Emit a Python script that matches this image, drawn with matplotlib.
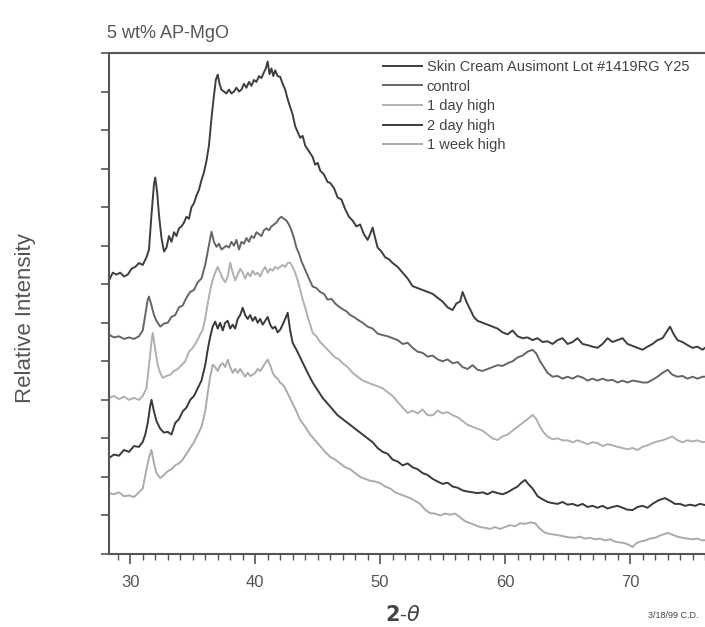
import matplotlib
matplotlib.use("Agg")
import matplotlib.pyplot as plt
from matplotlib.ticker import MultipleLocator, NullFormatter

plt.rcParams['font.family'] = ['Liberation Sans', 'DejaVu Sans']

# 2-theta and relative intensity (offset traces)
skin_x = [28.3, 28.6, 28.9, 29.2, 29.5, 29.8, 30.1, 30.4, 30.7, 31.0, 31.3, 31.5, 31.7, 31.9,
          32.0, 32.15, 32.3, 32.5, 32.7, 32.9, 33.1, 33.3, 33.5, 33.7, 33.9, 34.1, 34.3, 34.5,
          34.7, 34.9, 35.1, 35.3, 35.5, 35.7, 35.9, 36.1, 36.3, 36.5, 36.7, 36.85, 37.0, 37.15,
          37.3, 37.5, 37.7, 37.9, 38.1, 38.3, 38.5, 38.7, 38.9, 39.1, 39.3, 39.5, 39.7, 39.9,
          40.1, 40.3, 40.5, 40.7, 40.85, 41.0, 41.15, 41.3, 41.45, 41.6, 41.8, 42.0, 42.2, 42.4,
          42.6, 42.8, 43.0, 43.2, 43.4, 43.6, 43.8, 44.0, 44.2, 44.4, 44.6, 44.8, 45.0, 45.2,
          45.5, 45.8, 46.0, 46.3, 46.6, 46.9, 47.2, 47.5, 47.8, 48.1, 48.4, 48.7, 49.0, 49.2,
          49.4, 49.6, 49.8, 50.1, 50.4, 50.7, 51.0, 51.4, 51.8, 52.2, 52.6, 53.0, 53.4, 53.8,
          54.2, 54.6, 55.0, 55.4, 55.8, 56.1, 56.4, 56.6, 56.9, 57.2, 57.5, 57.8, 58.2, 58.6,
          59.0, 59.4, 59.8, 60.2, 60.6, 61.0, 61.4, 61.8, 62.2, 62.6, 63.0, 63.4, 63.8, 64.2,
          64.6, 65.0, 65.4, 65.8, 66.2, 66.6, 67.0, 67.4, 67.8, 68.2, 68.6, 69.0, 69.4, 69.8,
          70.2, 70.6, 71.0, 71.4, 71.8, 72.2, 72.6, 72.9, 73.2, 73.5, 73.8, 74.2, 74.6, 75.0,
          75.4, 75.8, 76.0]
skin_y = [7.1, 7.3, 7.25, 7.3, 7.2, 7.25, 7.4, 7.45, 7.55, 7.5, 7.7, 7.9, 8.8, 9.6,
          9.77, 9.4, 8.8, 8.2, 7.85, 7.95, 8.25, 8.1, 8.35, 8.25, 8.45, 8.5, 8.6, 8.75,
          8.7, 9.0, 9.1, 9.3, 9.45, 9.7, 9.9, 10.2, 10.6, 11.3, 11.9, 12.3, 12.44, 12.2,
          12.05, 12.0, 11.95, 12.05, 11.95, 12.0, 12.1, 12.0, 12.05, 12.2, 12.1, 12.25, 12.15, 12.3,
          12.25, 12.4, 12.35, 12.5, 12.6, 12.78, 12.45, 12.6, 12.4, 12.55, 12.4, 12.38, 12.2, 12.05,
          11.8, 11.6, 11.4, 11.1, 10.95, 10.8, 10.85, 10.6, 10.5, 10.4, 10.3, 10.1, 10.15, 9.95,
          9.85, 9.65, 9.63, 9.5, 9.25, 9.2, 8.95, 8.75, 8.65, 8.5, 8.55, 8.3, 8.15, 8.3,
          8.47, 8.2, 7.95, 7.85, 7.7, 7.65, 7.55, 7.45, 7.3, 7.15, 6.95, 6.9, 6.85, 6.8,
          6.75, 6.65, 6.55, 6.4, 6.33, 6.5, 6.55, 6.8, 6.55, 6.35, 6.15, 6.05, 6.0, 5.95,
          5.9, 5.85, 5.75, 5.7, 5.8, 5.65, 5.6, 5.62, 5.55, 5.6, 5.5, 5.52, 5.45, 5.55,
          5.6, 5.45, 5.5, 5.6, 5.45, 5.42, 5.38, 5.35, 5.45, 5.6, 5.5, 5.55, 5.6, 5.45,
          5.4, 5.35, 5.3, 5.38, 5.45, 5.55, 5.6, 5.75, 5.9, 5.7, 5.55, 5.5, 5.42, 5.35,
          5.38, 5.3, 5.35]

control_x = [28.3, 28.7, 29.1, 29.5, 29.9, 30.3, 30.7, 31.0, 31.2, 31.4, 31.5, 31.7, 31.9, 32.1,
             32.4, 32.7, 33.0, 33.3, 33.6, 33.9, 34.2, 34.5, 34.8, 35.1, 35.4, 35.7, 36.0, 36.2,
             36.4, 36.5, 36.7, 36.9, 37.1, 37.3, 37.5, 37.7, 37.9, 38.1, 38.3, 38.5, 38.7, 38.9,
             39.1, 39.3, 39.5, 39.7, 39.9, 40.1, 40.3, 40.5, 40.7, 40.9, 41.1, 41.3, 41.5, 41.7,
             41.9, 42.1, 42.3, 42.5, 42.7, 42.9, 43.1, 43.3, 43.5, 43.7, 43.9, 44.1, 44.3, 44.6,
             44.9, 45.2, 45.5, 45.8, 46.1, 46.4, 46.7, 47.0, 47.3, 47.6, 47.9, 48.2, 48.6, 49.0,
             49.4, 49.8, 50.2, 50.6, 51.0, 51.4, 51.8, 52.2, 52.6, 53.0, 53.4, 53.8, 54.2, 54.6,
             55.0, 55.4, 55.8, 56.2, 56.6, 57.0, 57.4, 57.8, 58.2, 58.6, 59.0, 59.4, 59.8, 60.2,
             60.6, 61.0, 61.4, 61.8, 62.2, 62.5, 62.8, 63.1, 63.4, 63.8, 64.2, 64.6, 65.0, 65.4,
             65.8, 66.2, 66.6, 67.0, 67.4, 67.8, 68.2, 68.6, 69.0, 69.4, 69.8, 70.2, 70.6, 71.0,
             71.4, 71.8, 72.2, 72.6, 73.0, 73.4, 73.8, 74.2, 74.6, 75.0, 75.4, 75.8, 76.0]
control_y = [5.69, 5.62, 5.65, 5.58, 5.62, 5.58, 5.65, 5.8, 6.2, 6.6, 6.68, 6.45, 6.2, 6.05,
             5.9, 5.98, 6.0, 6.15, 6.2, 6.4, 6.45, 6.65, 6.8, 6.85, 7.05, 7.15, 7.5, 7.85,
             8.2, 8.36, 8.1, 7.97, 8.05, 7.9, 7.95, 8.0, 7.95, 8.1, 8.0, 8.15, 7.9, 8.1,
             8.05, 8.2, 8.1, 8.25, 8.2, 8.35, 8.3, 8.25, 8.4, 8.45, 8.4, 8.5, 8.55, 8.6,
             8.7, 8.75, 8.7, 8.65, 8.55, 8.4, 8.2, 7.95, 7.8, 7.6, 7.45, 7.3, 7.15, 6.94,
             6.9, 6.8, 6.75, 6.6, 6.62, 6.5, 6.42, 6.35, 6.3, 6.2, 6.15, 6.08, 6.0, 5.9,
             5.85, 5.72, 5.68, 5.65, 5.6, 5.55, 5.45, 5.48, 5.35, 5.25, 5.22, 5.12, 5.15, 5.05,
             5.0, 5.05, 4.95, 4.98, 4.85, 4.8, 4.9, 4.78, 4.75, 4.8, 4.85, 4.9, 4.88, 4.95,
             5.0, 5.1, 5.15, 5.25, 5.3, 5.2, 5.0, 4.85, 4.7, 4.6, 4.62, 4.55, 4.6, 4.55,
             4.62, 4.58, 4.5, 4.55, 4.5, 4.55, 4.5, 4.52, 4.45, 4.5, 4.45, 4.5, 4.48, 4.45,
             4.45, 4.52, 4.6, 4.7, 4.78, 4.65, 4.6, 4.62, 4.55, 4.6, 4.55, 4.6, 4.6]

day1_x = [28.3, 28.7, 29.1, 29.5, 29.9, 30.3, 30.7, 31.0, 31.3, 31.5, 31.7, 31.8, 32.0, 32.2,
          32.4, 32.6, 32.9, 33.2, 33.5, 33.8, 34.1, 34.4, 34.7, 35.0, 35.3, 35.6, 35.8, 36.0,
          36.2, 36.4, 36.6, 36.8, 37.0, 37.2, 37.4, 37.6, 37.8, 38.0, 38.2, 38.4, 38.6, 38.8,
          39.0, 39.2, 39.4, 39.6, 39.8, 40.0, 40.2, 40.4, 40.6, 40.8, 41.0, 41.2, 41.4, 41.6,
          41.8, 42.0, 42.2, 42.4, 42.6, 42.8, 43.0, 43.2, 43.4, 43.6, 43.8, 44.0, 44.2, 44.4,
          44.6, 44.9, 45.2, 45.5, 45.8, 46.1, 46.4, 46.7, 47.0, 47.4, 47.8, 48.2, 48.6, 49.0,
          49.4, 49.8, 50.2, 50.6, 51.0, 51.4, 51.8, 52.2, 52.6, 53.0, 53.4, 53.8, 54.2, 54.6,
          55.0, 55.4, 55.8, 56.2, 56.6, 57.0, 57.4, 57.8, 58.2, 58.6, 59.0, 59.4, 59.8, 60.2,
          60.6, 61.0, 61.4, 61.8, 62.2, 62.5, 62.8, 63.1, 63.4, 63.8, 64.2, 64.6, 65.0, 65.4,
          65.8, 66.2, 66.6, 67.0, 67.4, 67.8, 68.2, 68.6, 69.0, 69.4, 69.8, 70.2, 70.6, 71.0,
          71.4, 71.8, 72.2, 72.6, 73.0, 73.4, 73.8, 74.2, 74.6, 75.0, 75.4, 75.8, 76.0]
day1_y = [4.05, 4.1, 4.02, 4.08, 4.0, 4.05, 4.0, 4.1, 4.3, 4.9, 5.5, 5.74, 5.3, 4.9,
          4.7, 4.57, 4.62, 4.65, 4.75, 4.8, 4.9, 5.0, 5.25, 5.35, 5.5, 5.7, 5.82, 6.1,
          6.5, 6.85, 7.12, 7.3, 7.45, 7.3, 7.15, 7.05, 7.2, 7.56, 7.3, 7.1, 7.25, 7.4,
          7.3, 7.15, 7.3, 7.2, 7.35, 7.25, 7.3, 7.2, 7.35, 7.45, 7.3, 7.4, 7.35, 7.45,
          7.4, 7.45, 7.5, 7.45, 7.55, 7.56, 7.45, 7.3, 7.1, 6.86, 6.6, 6.4, 6.15, 5.95,
          5.74, 5.65, 5.5, 5.4, 5.3, 5.2, 5.1, 5.05, 4.95, 4.85, 4.7, 4.6, 4.5, 4.45,
          4.4, 4.35, 4.3, 4.2, 4.1, 3.95, 3.8, 3.66, 3.72, 3.65, 3.75, 3.6, 3.6, 3.72,
          3.65, 3.68, 3.6, 3.55, 3.45, 3.35, 3.3, 3.25, 3.2, 3.1, 3.0, 2.96, 3.05, 3.1,
          3.2, 3.3, 3.4, 3.5, 3.61, 3.5, 3.3, 3.15, 3.05, 2.98, 3.0, 2.95, 2.95, 2.9,
          2.95, 2.9, 2.85, 2.9, 2.88, 2.8, 2.85, 2.82, 2.78, 2.75, 2.72, 2.75, 2.7, 2.78,
          2.82, 2.88, 2.92, 2.95, 3.0, 3.05, 2.95, 2.9, 2.95, 2.92, 2.95, 2.9, 2.91]

day2_x = [28.3, 28.7, 29.1, 29.5, 29.9, 30.3, 30.7, 31.0, 31.2, 31.4, 31.6, 31.7, 31.9, 32.1,
          32.4, 32.7, 33.0, 33.3, 33.6, 33.9, 34.2, 34.5, 34.8, 35.1, 35.4, 35.7, 36.0, 36.2,
          36.4, 36.6, 36.8, 37.0, 37.2, 37.4, 37.6, 37.8, 38.0, 38.2, 38.4, 38.6, 38.8, 39.0,
          39.2, 39.4, 39.6, 39.8, 40.0, 40.2, 40.4, 40.6, 40.8, 41.0, 41.2, 41.4, 41.6, 41.8,
          42.0, 42.2, 42.4, 42.6, 42.8, 43.0, 43.3, 43.6, 43.9, 44.2, 44.6, 45.0, 45.4, 45.8,
          46.2, 46.6, 47.0, 47.4, 47.8, 48.2, 48.6, 49.0, 49.4, 49.8, 50.2, 50.6, 51.0, 51.4,
          51.8, 52.2, 52.6, 53.0, 53.4, 53.8, 54.2, 54.6, 55.0, 55.4, 55.8, 56.2, 56.6, 57.0,
          57.4, 57.8, 58.2, 58.6, 59.0, 59.4, 59.8, 60.2, 60.6, 61.0, 61.3, 61.6, 61.9, 62.2,
          62.6, 63.0, 63.4, 63.8, 64.2, 64.6, 65.0, 65.4, 65.8, 66.2, 66.6, 67.0, 67.4, 67.8,
          68.2, 68.6, 69.0, 69.4, 69.8, 70.2, 70.6, 71.0, 71.4, 71.8, 72.2, 72.5, 72.8, 73.2,
          73.6, 74.0, 74.4, 74.8, 75.2, 75.6, 76.0]
day2_y = [2.49, 2.58, 2.55, 2.7, 2.65, 2.8, 2.78, 2.91, 3.1, 3.4, 3.85, 4.0, 3.7, 3.45,
          3.25, 3.15, 3.17, 3.1, 3.4, 3.5, 3.7, 3.8, 4.0, 4.1, 4.3, 4.5, 4.9, 5.3,
          5.64, 5.9, 6.03, 5.85, 6.0, 5.8, 6.0, 6.05, 5.85, 5.95, 5.85, 6.1, 6.2, 6.39,
          6.2, 6.1, 6.2, 6.05, 6.15, 6.0, 6.1, 5.95, 6.05, 6.15, 5.95, 5.85, 5.9, 5.75,
          5.82, 5.95, 6.1, 6.26, 5.8, 5.48, 5.3, 5.1, 4.9, 4.7, 4.45, 4.25, 4.05, 3.9,
          3.75, 3.6, 3.5, 3.4, 3.3, 3.2, 3.1, 3.0, 2.9, 2.75, 2.65, 2.6, 2.45, 2.4,
          2.3, 2.35, 2.25, 2.2, 2.1, 2.05, 1.95, 1.88, 1.82, 1.85, 1.75, 1.72, 1.65, 1.62,
          1.6, 1.58, 1.6, 1.55, 1.62, 1.58, 1.55, 1.6, 1.68, 1.75, 1.85, 1.92, 1.8, 1.7,
          1.5, 1.42, 1.35, 1.32, 1.3, 1.35, 1.28, 1.3, 1.25, 1.3, 1.22, 1.25, 1.2, 1.25,
          1.18, 1.22, 1.25, 1.2, 1.15, 1.14, 1.22, 1.25, 1.2, 1.3, 1.38, 1.42, 1.45, 1.38,
          1.3, 1.3, 1.25, 1.28, 1.25, 1.3, 1.27]

week1_x = [28.3, 28.7, 29.1, 29.5, 29.9, 30.3, 30.7, 31.0, 31.3, 31.5, 31.7, 31.9, 32.1, 32.4,
           32.7, 33.0, 33.3, 33.6, 33.9, 34.2, 34.5, 34.8, 35.1, 35.4, 35.7, 36.0, 36.2, 36.4,
           36.6, 36.8, 37.0, 37.2, 37.4, 37.6, 37.8, 38.0, 38.2, 38.4, 38.6, 38.8, 39.0, 39.2,
           39.4, 39.6, 39.8, 40.0, 40.2, 40.4, 40.6, 40.8, 41.0, 41.2, 41.4, 41.6, 41.8, 42.0,
           42.2, 42.4, 42.7, 43.0, 43.3, 43.6, 44.0, 44.4, 44.8, 45.2, 45.6, 46.0, 46.4, 46.8,
           47.2, 47.6, 48.0, 48.4, 48.8, 49.2, 49.6, 50.0, 50.4, 50.8, 51.2, 51.6, 52.0, 52.4,
           52.8, 53.2, 53.6, 54.0, 54.4, 54.8, 55.2, 55.6, 56.0, 56.4, 56.8, 57.2, 57.6, 58.0,
           58.4, 58.8, 59.2, 59.6, 60.0, 60.4, 60.8, 61.2, 61.6, 62.0, 62.4, 62.8, 63.2, 63.6,
           64.0, 64.4, 64.8, 65.2, 65.6, 66.0, 66.4, 66.8, 67.2, 67.6, 68.0, 68.4, 68.8, 69.2,
           69.6, 70.0, 70.2, 70.5, 70.8, 71.2, 71.6, 72.0, 72.4, 72.8, 73.0, 73.4, 73.8, 74.2,
           74.6, 75.0, 75.4, 75.8, 76.0]
week1_y = [1.58, 1.55, 1.6, 1.5, 1.52, 1.48, 1.6, 1.7, 2.2, 2.5, 2.7, 2.35, 2.1, 1.97,
           2.05, 2.15, 2.2, 2.3, 2.35, 2.45, 2.6, 2.75, 2.9, 3.1, 3.3, 3.7, 4.18, 4.6,
           4.91, 4.85, 4.75, 4.9, 4.95, 4.85, 5.04, 4.85, 4.7, 4.8, 4.7, 4.8, 4.7, 4.6,
           4.7, 4.62, 4.65, 4.7, 4.8, 4.75, 4.85, 4.95, 5.04, 4.9, 4.7, 4.6, 4.55, 4.44,
           4.4, 4.3, 4.1, 3.9, 3.7, 3.48, 3.3, 3.1, 2.95, 2.8, 2.65, 2.52, 2.45, 2.35,
           2.25, 2.2, 2.1, 2.0, 1.95, 1.9, 1.88, 1.84, 1.75, 1.7, 1.6, 1.55, 1.5, 1.45,
           1.38, 1.3, 1.15, 1.06, 1.05, 1.0, 1.05, 1.02, 1.05, 0.95, 0.85, 0.8, 0.75, 0.7,
           0.68, 0.65, 0.7, 0.65, 0.7, 0.75, 0.72, 0.8, 0.78, 0.82, 0.8, 0.65, 0.55, 0.52,
           0.5, 0.48, 0.45, 0.43, 0.42, 0.45, 0.4, 0.42, 0.38, 0.4, 0.35, 0.38, 0.32, 0.3,
           0.28, 0.22, 0.18, 0.28, 0.32, 0.35, 0.4, 0.42, 0.48, 0.52, 0.55, 0.5, 0.45, 0.42,
           0.4, 0.38, 0.4, 0.35, 0.36]

labels = ["Skin Cream Ausimont Lot #1419RG Y25", "control", "1 day high",
          "2 day high", "1 week high"]
colors = ["#3e3e3e", "#666666", "#b0b0b0", "#3a3a3a", "#ababab"]

series = [(skin_x, skin_y), (control_x, control_y), (day1_x, day1_y),
          (day2_x, day2_y), (week1_x, week1_y)]

fig = plt.figure(figsize=(7.05, 6.27), dpi=100)
ax = fig.add_axes([109 / 705, 1 - 554 / 627, 1 - 109 / 705, (554 - 53) / 627])

for (x, y), lab, c in zip(series, labels, colors):
    ax.plot(x, y, color=c, lw=1.4, label=lab)

ax.set_xlim(28.3, 76)
ax.set_ylim(0, 13)
ax.xaxis.set_major_locator(MultipleLocator(10))
ax.xaxis.set_minor_locator(MultipleLocator(1))
ax.yaxis.set_major_locator(MultipleLocator(1))
ax.yaxis.set_major_formatter(NullFormatter())
ax.tick_params(axis='x', which='major', direction='out', length=7, width=1.2,
               color='#555555', labelsize=12, labelcolor='#555555', pad=8)
ax.tick_params(axis='x', which='minor', direction='out', length=4, width=1,
               color='#555555')
ax.tick_params(axis='y', direction='out', length=6, width=1.2, color='#555555')

for s in ['left', 'bottom', 'top']:
    ax.spines[s].set_color('#555555')
    ax.spines[s].set_linewidth(1.5)
ax.spines['right'].set_visible(False)

fig.text(107 / 705, 1 - 33 / 627, "5 wt% AP-MgO", fontsize=13, color='#555555',
         ha='left', va='center')
fig.text(25 / 705, 1 - 318 / 627, "Relative Intensity", fontsize=16, color='#555555',
         rotation=90, ha='center', va='center')
fig.text(403 / 705, 1 - 615 / 627, r"$\mathbf{2}$-$\it{\theta}$", fontsize=15,
         color='#444444', ha='center', va='center')
fig.text(699 / 705, 1 - 615 / 627, "3/18/99 C.D.", fontsize=6.5, color='#444444',
         ha='right', va='center')

leg = ax.legend(loc='upper left', bbox_to_anchor=(383 / 705, 1 - 60 / 627),
                bbox_transform=fig.transFigure, frameon=False, fontsize=10.5,
                handlelength=2.7, handletextpad=0.3, labelspacing=0.38,
                borderpad=0, borderaxespad=0)
for t in leg.get_texts():
    t.set_color('#444444')

fig.savefig("out.png", dpi=100)
